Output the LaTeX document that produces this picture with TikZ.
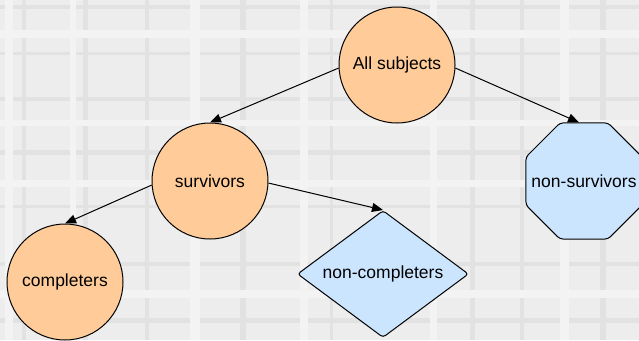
\documentclass[tikz,border=0pt]{standalone}
\usepackage{fontspec}
\setmainfont{Liberation Sans}
\usetikzlibrary{shapes.geometric,arrows.meta}
\definecolor{peach}{RGB}{255,204,153}
\definecolor{lblue}{RGB}{204,229,255}
\definecolor{bggray}{RGB}{237,237,237}
\definecolor{stripe}{RGB}{226,226,226}
\definecolor{stripelt}{RGB}{243,243,243}
\begin{document}
\begin{tikzpicture}[x=1pt,y=1pt,
  lbl/.style={font=\fontsize{17.5}{20}\selectfont, text=black},
  circ/.style={lbl, draw=black, line width=1pt, circle, fill=peach, minimum size=116pt, inner sep=0pt},
  octa/.style={draw=black, line width=1pt, regular polygon, regular polygon sides=8, fill=lblue, minimum size=125.6pt, inner sep=0pt, rounded corners=3pt},
  diam/.style={lbl, draw=black, line width=1pt, diamond, fill=lblue, minimum width=171pt, minimum height=127pt, aspect=1.35, inner sep=0pt, rounded corners=3pt},
  conn/.style={line width=1pt, -{Triangle[length=11pt,width=9pt]}}]
% background
\fill[bggray] (0,0) rectangle (639,-340);
\useasboundingbox (0,0) rectangle (639,-340);
\foreach \x/\w in {22/4, 83/5, 145/4, 240/6, 330/3, 470/5, 520/4, 600/6}
  \fill[stripe] (\x,0) rectangle ++(\w,-340);
\foreach \y/\h in {5/4, 52/3, 97/4, 150/5, 205/3, 262/4, 318/5}
  \fill[stripe] (0,-\y) rectangle ++(639,-\h);
\foreach \x/\w in {5/8, 70/6, 190/10, 300/8, 430/7, 560/9}
  \fill[stripelt] (\x,0) rectangle ++(\w,-340);
\foreach \y/\h in {30/8, 120/6, 180/7, 290/8}
  \fill[stripelt] (0,-\y) rectangle ++(639,-\h);
% nodes
\node[circ] (all) at (397,-65) {All subjects};
\node[circ] (surv) at (210,-181) {survivors};
\node[circ] (comp) at (65,-282) {completers};
\node[octa] (nsurv) at (584,-181) {};
\node[lbl] (nsurvtext) at (nsurv.center) {non-survivors};
\node[diam] (ncomp) at (383,-274) {non-completers};
% connectors
\draw[conn] (all.183) -- (surv.north);
\draw[conn] (all.357) -- ([xshift=-5pt]nsurv.north);
\draw[conn] (surv.358) -- (ncomp.north);
\draw[conn] (surv.184) -- (comp.north);
\end{tikzpicture}
\end{document}
